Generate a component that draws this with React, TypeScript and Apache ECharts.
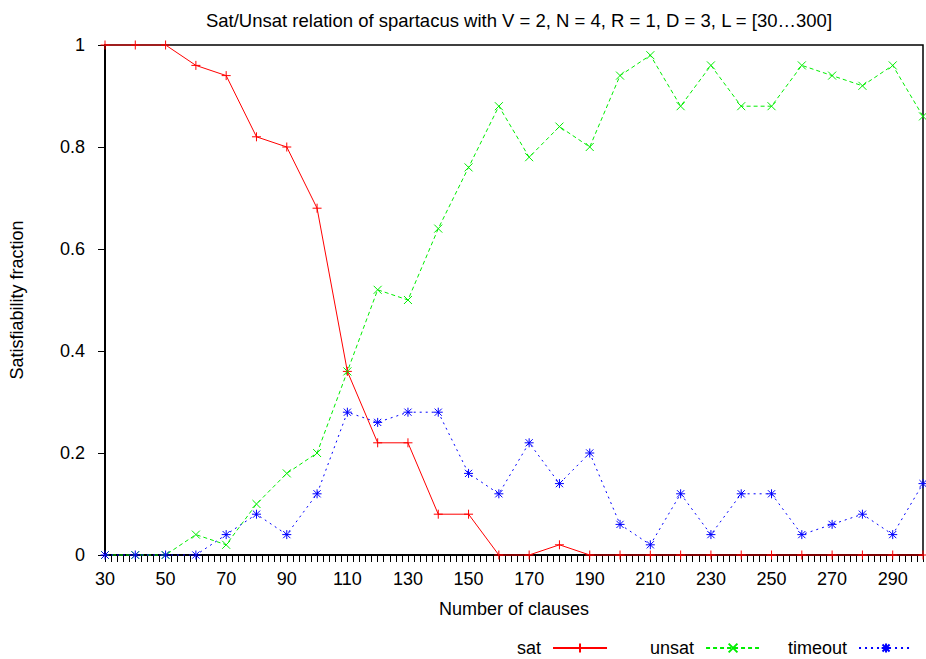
import React, { useEffect, useRef } from "react";
import * as echarts from "echarts";

const clauses = [30, 40, 50, 60, 70, 80, 90, 100, 110, 120, 130, 140, 150, 160, 170, 180, 190, 200, 210, 220, 230, 240, 250, 260, 270, 280, 290, 300];
const satValues = [1, 1, 1, 0.96, 0.94, 0.82, 0.8, 0.68, 0.36, 0.22, 0.22, 0.08, 0.08, 0, 0, 0.02, 0, 0, 0, 0, 0, 0, 0, 0, 0, 0, 0, 0];
const unsatValues = [0, 0, 0, 0.04, 0.02, 0.1, 0.16, 0.2, 0.36, 0.52, 0.5, 0.64, 0.76, 0.88, 0.78, 0.84, 0.8, 0.94, 0.98, 0.88, 0.96, 0.88, 0.88, 0.96, 0.94, 0.92, 0.96, 0.86];
const timeoutValues = [0, 0, 0, 0, 0.04, 0.08, 0.04, 0.12, 0.28, 0.26, 0.28, 0.28, 0.16, 0.12, 0.22, 0.14, 0.2, 0.06, 0.02, 0.12, 0.04, 0.12, 0.12, 0.04, 0.06, 0.08, 0.04, 0.14];
const seriesNames = ["sat", "unsat", "timeout"];
const titleText = "Sat/Unsat relation of spartacus with V = 2, N = 4, R = 1, D = 3, L = [30…300]";

const FONT = "Liberation Sans, Arial, Helvetica, sans-serif";

const PLUS = "path://M5 0 L5 10 M0 5 L10 5";
const CROSS = "path://M0 0 L10 10 M10 0 L0 10";
const STAR = "path://M5 0 L5 10 M0 5 L10 5 M1 1 L9 9 M9 1 L1 9";

export default function App() {
  const ref = useRef<HTMLDivElement>(null);
  useEffect(() => {
    if (!ref.current) return;
    const chart = echarts.init(ref.current, null, { renderer: "svg" });
    const mk = (name: string, vals: number[], color: string, symbol: string, type: any, size: number) => ({
      name,
      type: "line",
      data: clauses.map((c, i) => [c, vals[i]]),
      symbol,
      symbolSize: size,
      showSymbol: true,
      clip: false,
      lineStyle: { color, width: 1, type },
      itemStyle: { color, borderColor: color, borderWidth: 1 },
      emphasis: { disabled: true },
    });
    const legendBase = {
      top: 634,
      align: "right",
      itemWidth: 54,
      itemHeight: 11,
      itemGap: 42,
      textStyle: { fontSize: 18, color: "#000", fontFamily: FONT, padding: [0, 7, 0, 0] },
    };
    chart.setOption({
      animation: false,
      backgroundColor: "#ffffff",
      textStyle: { fontFamily: FONT },
      title: {
        text: titleText,
        left: 514,
        textAlign: "center",
        top: 6,
        textStyle: { fontSize: 18.5, fontWeight: "normal", color: "#000", fontFamily: FONT },
      },
      grid: {
        left: 104,
        right: 1,
        top: 45,
        bottom: 104,
        show: true,
        borderColor: "#000",
        borderWidth: 1.5,
        backgroundColor: "transparent",
      },
      legend: [
        { ...legendBase, data: seriesNames.slice(0, 2), left: 512 },
        { ...legendBase, data: seriesNames.slice(2), left: 783 },
      ],
      xAxis: {
        type: "value",
        min: 30,
        max: 300,
        interval: 2,
        name: "Number of clauses",
        nameLocation: "middle",
        nameGap: 45,
        nameTextStyle: { fontSize: 18, color: "#000", fontFamily: FONT },
        axisLine: { show: true, lineStyle: { color: "#000", width: 2 } },
        axisTick: { show: true, inside: false, length: 7, lineStyle: { color: "#000", width: 1 } },
        axisLabel: {
          margin: 15,
          fontSize: 18,
          color: "#000",
          fontFamily: FONT,
          formatter: (v: number) => ((v - 30) % 20 === 0 ? String(v) : ""),
        },
        splitLine: { show: false },
      },
      yAxis: {
        type: "value",
        min: 0,
        max: 1,
        interval: 0.2,
        name: "Satisfiability fraction",
        nameLocation: "middle",
        nameGap: 79,
        nameTextStyle: { fontSize: 18, color: "#000", fontFamily: FONT },
        axisLine: { show: true, lineStyle: { color: "#000", width: 2 } },
        axisTick: { show: true, inside: false, length: 7, lineStyle: { color: "#000", width: 1 } },
        axisLabel: {
          margin: 20,
          fontSize: 18,
          color: "#000",
          fontFamily: FONT,
          formatter: (v: number) => String(Math.round(v * 10) / 10),
        },
        splitLine: { show: false },
      },
      series: [
        mk("sat", satValues, "#ff0000", PLUS, "solid", 9),
        mk("unsat", unsatValues, "#00ee00", CROSS, [4, 3], 8),
        mk("timeout", timeoutValues, "#0000ff", STAR, [2, 4], 9),
      ],
    });
    return () => chart.dispose();
  }, []);
  return <div ref={ref} style={{ position: "fixed", left: 0, top: 0, width: 926, height: 659 }} />;
}
